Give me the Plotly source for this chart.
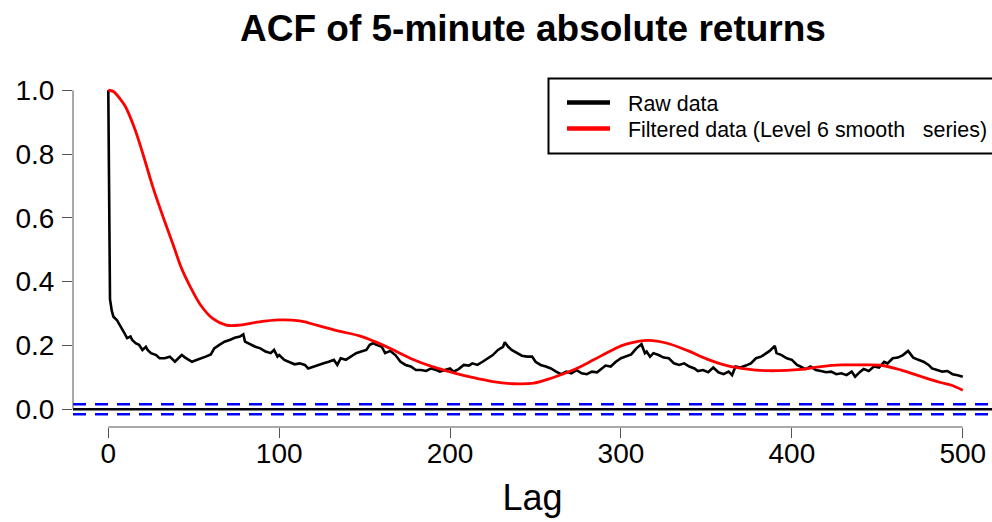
import plotly.graph_objects as go

# Sample ACF of absolute 5-minute returns (raw series)
raw_lag = [0, 1, 2, 3, 5, 7, 9, 11, 13, 14, 16, 18, 20, 22, 23, 25, 28, 30, 33, 36,
           39, 41, 43, 45, 47, 49, 52, 55, 57, 60, 62, 65, 68, 71, 74, 77, 79, 80, 83, 86,
           89, 92, 95, 97, 99, 100, 103, 106, 109, 112, 115, 117, 120, 123, 126, 129, 132, 134, 136, 139,
           142, 145, 148, 151, 153, 155, 157, 160, 162, 165, 168, 171, 174, 177, 180, 183, 186, 189, 192, 194,
           197, 200, 202, 205, 208, 211, 213, 216, 219, 222, 225, 228, 231, 232, 234, 236, 239, 242, 245, 248,
           250, 253, 256, 259, 262, 265, 268, 271, 274, 277, 280, 283, 286, 289, 291, 294, 297, 300, 303, 306,
           309, 312, 314, 315, 317, 319, 322, 325, 328, 331, 334, 337, 340, 343, 345, 348, 351, 354, 357, 360,
           363, 365, 367, 370, 373, 376, 379, 382, 384, 387, 390, 391, 394, 397, 400, 403, 405, 408, 411, 414,
           417, 420, 423, 426, 429, 432, 435, 437, 440, 442, 445, 448, 451, 454, 456, 459, 462, 465, 468, 471,
           474, 477, 480, 482, 485, 488, 491, 494, 497, 500]
raw_acf = [1.000, 0.345, 0.310, 0.290, 0.280, 0.259, 0.243, 0.223, 0.228, 0.217, 0.207, 0.202, 0.186, 0.196, 0.186, 0.176, 0.170, 0.160, 0.160, 0.165,
           0.149, 0.160, 0.170, 0.162, 0.155, 0.149, 0.155, 0.160, 0.165, 0.172, 0.191, 0.202, 0.212, 0.217, 0.224, 0.228, 0.235, 0.212, 0.204, 0.196,
           0.191, 0.181, 0.176, 0.186, 0.165, 0.170, 0.155, 0.149, 0.141, 0.144, 0.139, 0.128, 0.134, 0.139, 0.144, 0.149, 0.155, 0.139, 0.160, 0.155,
           0.165, 0.176, 0.181, 0.186, 0.202, 0.207, 0.202, 0.196, 0.176, 0.183, 0.170, 0.149, 0.139, 0.134, 0.123, 0.123, 0.120, 0.128, 0.123, 0.118,
           0.123, 0.128, 0.118, 0.126, 0.139, 0.137, 0.144, 0.139, 0.149, 0.160, 0.170, 0.186, 0.196, 0.210, 0.196, 0.186, 0.176, 0.168, 0.165, 0.165,
           0.149, 0.139, 0.134, 0.128, 0.118, 0.110, 0.118, 0.113, 0.123, 0.113, 0.110, 0.118, 0.116, 0.128, 0.137, 0.134, 0.149, 0.160, 0.165, 0.172,
           0.191, 0.204, 0.176, 0.181, 0.165, 0.176, 0.170, 0.162, 0.160, 0.144, 0.139, 0.144, 0.134, 0.128, 0.120, 0.123, 0.116, 0.131, 0.116, 0.110,
           0.118, 0.107, 0.134, 0.131, 0.137, 0.144, 0.160, 0.165, 0.172, 0.183, 0.199, 0.176, 0.170, 0.160, 0.155, 0.139, 0.134, 0.126, 0.134, 0.123,
           0.120, 0.116, 0.118, 0.110, 0.113, 0.107, 0.118, 0.102, 0.118, 0.126, 0.120, 0.134, 0.131, 0.149, 0.144, 0.160, 0.162, 0.170, 0.183, 0.162,
           0.155, 0.149, 0.139, 0.128, 0.123, 0.118, 0.120, 0.110, 0.107, 0.102]

# ACF of the level-6 smooth (filtered) series
smooth_lag = [0, 3, 7, 10, 15, 20, 26, 32, 38, 43, 48, 54, 61, 69, 77, 87, 100, 112, 123, 135,
              147, 156, 168, 178, 190, 201, 213, 225, 237, 249, 260, 272, 284, 295, 303, 316, 327, 339, 350, 362,
              374, 386, 397, 405, 417, 429, 440, 452, 464, 476, 487, 493, 500]
smooth_acf = [1.000, 0.996, 0.972, 0.949, 0.886, 0.805, 0.698, 0.604, 0.515, 0.440, 0.384, 0.327, 0.285, 0.264, 0.264, 0.273, 0.280, 0.277, 0.262, 0.245,
              0.230, 0.212, 0.183, 0.157, 0.133, 0.116, 0.100, 0.087, 0.080, 0.082, 0.099, 0.123, 0.155, 0.186, 0.204, 0.216, 0.207, 0.184, 0.158, 0.137,
              0.126, 0.121, 0.122, 0.125, 0.134, 0.139, 0.139, 0.138, 0.123, 0.102, 0.084, 0.076, 0.060]

ci_bound = 0.0156

x_ticks = [0, 100, 200, 300, 400, 500]
y_ticks = [0.0, 0.2, 0.4, 0.6, 0.8, 1.0]
y_tick_labels = ["0.0", "0.2", "0.4", "0.6", "0.8", "1.0"]

legend_labels = ["Raw data", "Filtered data (Level 6 smooth\u00a0\u00a0\u00a0series)"]
series_colors = ["black", "red"]

W, H = 992, 522
ML, MR, MT, MB = 73, 0, 77, 95
plot_w = W - ML - MR
plot_h = H - MT - MB


def px_x(px):
    return (px - ML) / plot_w


def px_y(py):
    return (H - MB - py) / plot_h


FONT = "Liberation Sans, Arial, sans-serif"
AXIS_GREY = "#555555"

fig = go.Figure()
fig.add_trace(go.Scatter(x=raw_lag, y=raw_acf, mode="lines",
                         line=dict(color=series_colors[0], width=2.6),
                         name=legend_labels[0], showlegend=False, hoverinfo="skip"))
fig.add_trace(go.Scatter(x=smooth_lag, y=smooth_acf, mode="lines", line_shape="spline",
                         line=dict(color=series_colors[1], width=2.8),
                         name=legend_labels[1], showlegend=False, hoverinfo="skip"))

shapes = []
# zero reference and confidence bounds across the full panel
shapes.append(dict(type="line", xref="paper", yref="y", x0=0, x1=1, y0=0, y1=0,
                   line=dict(color="black", width=2.6), layer="below"))
for b in (ci_bound, -ci_bound):
    shapes.append(dict(type="line", xref="paper", yref="y", x0=0, x1=1, y0=b, y1=b,
                       line=dict(color="#0000ff", width=2.6, dash="13px,9px"), layer="below"))
# axis lines spanning first to last tick
shapes.append(dict(type="line", xref="x", yref="paper", x0=x_ticks[0], x1=x_ticks[-1], y0=0, y1=0,
                   line=dict(color=AXIS_GREY, width=1)))
shapes.append(dict(type="line", xref="paper", yref="y", x0=0, x1=0, y0=y_ticks[0], y1=y_ticks[-1],
                   line=dict(color=AXIS_GREY, width=1)))

# legend box
shapes.append(dict(type="rect", xref="paper", yref="paper",
                   x0=px_x(548.5), x1=px_x(1005), y0=px_y(78.5), y1=px_y(153.5),
                   line=dict(color="black", width=2), fillcolor="white"))
legend_rows = [102.5, 128.5]
annotations = []
for lab, col, yy in zip(legend_labels, series_colors, legend_rows):
    shapes.append(dict(type="line", xref="paper", yref="paper",
                       x0=px_x(567), x1=px_x(610), y0=px_y(yy), y1=px_y(yy),
                       line=dict(color=col, width=4.5)))
    annotations.append(dict(text=lab, xref="paper", yref="paper", x=px_x(625.5), y=px_y(yy + 1),
                            xanchor="left", yanchor="middle", showarrow=False,
                            font=dict(family=FONT, size=21.4, color="black")))

annotations.append(dict(text="<b>ACF of 5-minute absolute returns</b>", xref="paper", yref="paper",
                        x=0.5, y=px_y(29), xanchor="center", yanchor="middle", showarrow=False,
                        font=dict(family=FONT, size=37, color="black")))

fig.update_layout(
    width=W, height=H,
    margin=dict(l=ML, r=MR, t=MT, b=MB, pad=0),
    paper_bgcolor="white", plot_bgcolor="white",
    font=dict(family=FONT, color="black"),
    shapes=shapes, annotations=annotations,
    showlegend=False,
)
fig.update_xaxes(range=[-20.65, 517.1], showgrid=False, zeroline=False, showline=False,
                 tickvals=x_ticks, ticks="outside", ticklen=10, tickwidth=1, tickcolor=AXIS_GREY,
                 ticklabelstandoff=-9,
                 tickfont=dict(family=FONT, size=28, color="black"),
                 title=dict(text="Lag", font=dict(family=FONT, size=36, color="black"), standoff=17))
fig.update_yaxes(range=[-0.0555, 1.0415], showgrid=False, zeroline=False, showline=False,
                 tickvals=y_ticks, ticktext=y_tick_labels, ticks="outside", ticklen=10, tickwidth=1,
                 tickcolor=AXIS_GREY, ticklabelstandoff=2,
                 tickfont=dict(family=FONT, size=28, color="black"))

fig.write_html("out.html")
